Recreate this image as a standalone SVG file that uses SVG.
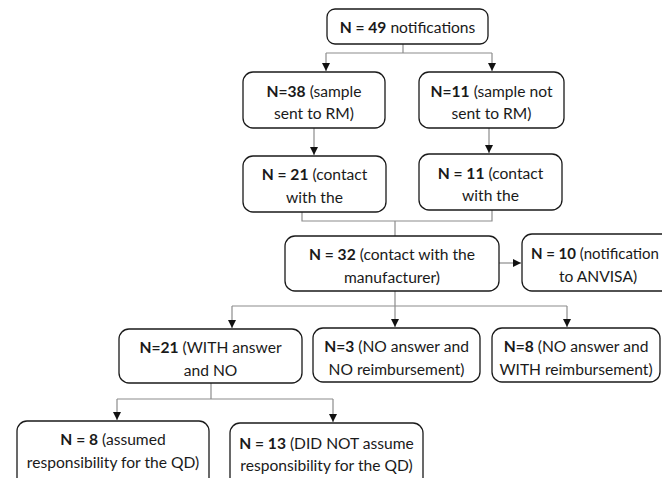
<svg xmlns="http://www.w3.org/2000/svg" width="662" height="478" viewBox="0 0 662 478">
<style>
.box{fill:#fff;stroke:#1a1a1a;stroke-width:1.3}
.con{fill:none;stroke:#8c8c8c;stroke-width:1.2}
text{font-family:Lato,"Liberation Sans",sans-serif;font-size:15.6px;fill:#1a1a1a;text-anchor:middle}
.b{font-weight:bold}
</style>
<defs>
<marker id="ah" viewBox="0 0 10 10" refX="10" refY="5" markerWidth="8" markerHeight="8" markerUnits="userSpaceOnUse" orient="auto">
<path d="M0,0 L10,5 L0,10 z" fill="#111"/>
</marker>
</defs>
<rect width="662" height="478" fill="#fff"/>
<g id="connectors">
<path class="con" d="M403,44 V53 M326,53 H492"/>
<path class="con" d="M326,53 V71" marker-end="url(#ah)"/>
<path class="con" d="M492,53 V71" marker-end="url(#ah)"/>
<path class="con" d="M314,128 V155" marker-end="url(#ah)"/>
<path class="con" d="M489,128 V153" marker-end="url(#ah)"/>
<path class="con" d="M302,212 V221 H492 V210"/>
<path class="con" d="M395,221 V236"/>
<path class="con" d="M499,263 H521" marker-end="url(#ah)"/>
<path class="con" d="M395,291 V306 M232,306 H567"/>
<path class="con" d="M232,306 V328" marker-end="url(#ah)"/>
<path class="con" d="M395,306 V327" marker-end="url(#ah)"/>
<path class="con" d="M567,306 V327" marker-end="url(#ah)"/>
<path class="con" d="M211,383 V399 M117,399 H333"/>
<path class="con" d="M117,399 V420" marker-end="url(#ah)"/>
<path class="con" d="M333,399 V422" marker-end="url(#ah)"/>
</g>
<g id="n49">
<rect class="box" x="327" y="9" width="161" height="35" rx="8"/>
<text x="407.5" y="33"><tspan class="b">N = 49</tspan> notifications</text>
</g>
<g id="n38">
<rect class="box" x="243" y="72" width="142" height="56" rx="10"/>
<text x="314" y="97"><tspan class="b">N=38</tspan> (sample</text>
<text x="314" y="119">sent to RM)</text>
</g>
<g id="n11s">
<rect class="box" x="419" y="72" width="145" height="56" rx="10"/>
<text x="491.5" y="97"><tspan class="b">N=11</tspan> (sample not</text>
<text x="491.5" y="119">sent to RM)</text>
</g>
<g id="n21c">
<rect class="box" x="243" y="156" width="143" height="56" rx="10"/>
<text x="314.5" y="180"><tspan class="b">N = 21</tspan> (contact</text>
<text x="314.5" y="202.5">with the</text>
</g>
<g id="n11c">
<rect class="box" x="419" y="154" width="143" height="56" rx="10"/>
<text x="490.5" y="178.5"><tspan class="b">N = 11</tspan> (contact</text>
<text x="490.5" y="201">with the</text>
</g>
<g id="n32">
<rect class="box" x="285" y="236" width="214" height="55" rx="10"/>
<text x="392" y="260"><tspan class="b">N = 32</tspan> (contact with the</text>
<text x="392" y="282.5">manufacturer)</text>
</g>
<g id="n10">
<rect class="box" x="522" y="234" width="160" height="57" rx="10"/>
<text x="531" y="259" style="text-anchor:start;font-size:15px"><tspan class="b">N = 10</tspan> (notification</text>
<text x="598" y="281.5">to ANVISA)</text>
</g>
<g id="n21w">
<rect class="box" x="119" y="329" width="183" height="54" rx="10"/>
<text x="210.5" y="353"><tspan class="b">N=21</tspan> (WITH answer</text>
<text x="210.5" y="375.5">and NO</text>
</g>
<g id="n3">
<rect class="box" x="313" y="328" width="167" height="54" rx="10"/>
<text x="396.5" y="352"><tspan class="b">N=3</tspan> (NO answer and</text>
<text x="396.5" y="375">NO reimbursement)</text>
</g>
<g id="n8w">
<rect class="box" x="492" y="328" width="168" height="54" rx="10"/>
<text x="576" y="352"><tspan class="b">N=8</tspan> (NO answer and</text>
<text x="576" y="375">WITH reimbursement)</text>
</g>
<g id="n8a">
<rect class="box" x="17" y="421" width="192" height="70" rx="10"/>
<text x="113" y="445"><tspan class="b">N = 8</tspan> (assumed</text>
<text x="113" y="468">responsibility for the QD)</text>
</g>
<g id="n13">
<rect class="box" x="230" y="423" width="193" height="70" rx="10"/>
<text x="326.5" y="449"><tspan class="b">N = 13</tspan> (DID NOT assume</text>
<text x="326.5" y="471">responsibility for the QD)</text>
</g>
</svg>
